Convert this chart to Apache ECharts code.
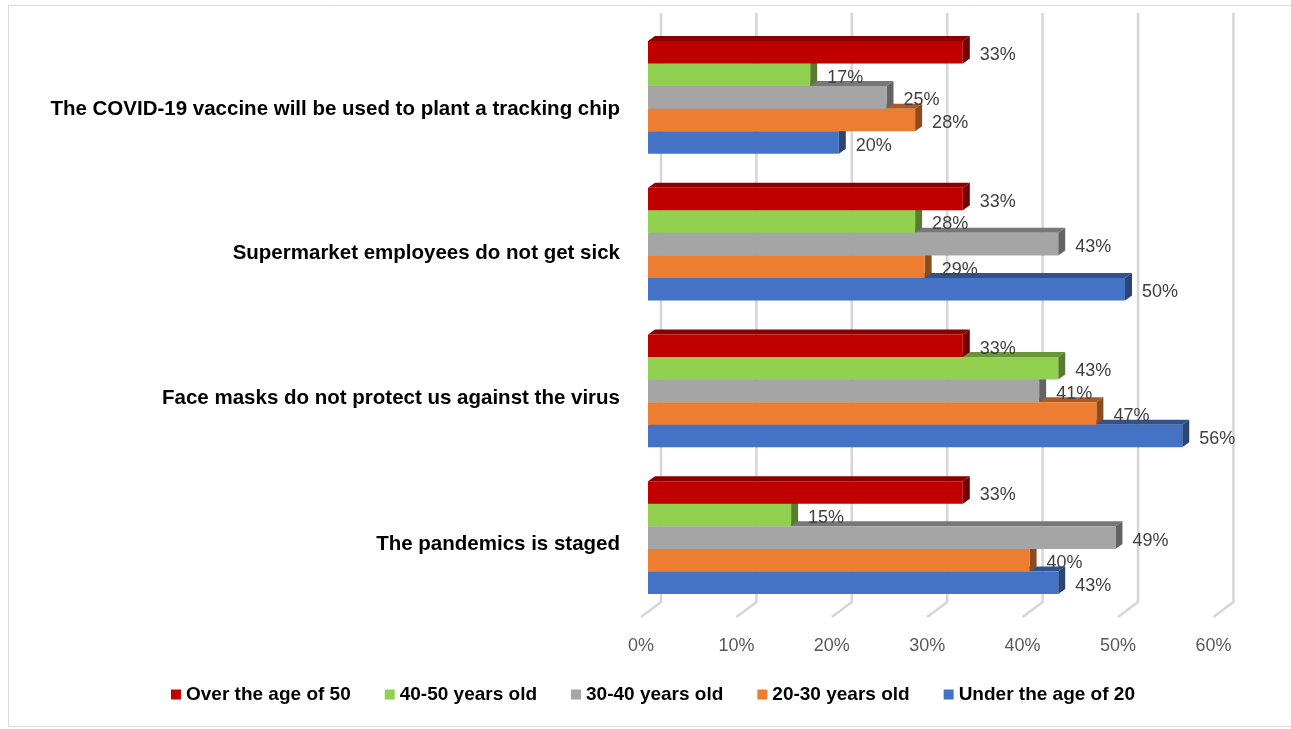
<!DOCTYPE html>
<html>
<head>
<meta charset="utf-8">
<script src="https://cdn.jsdelivr.net/npm/echarts@6/dist/echarts.min.js"></script>
<style>
  html, body { margin: 0; padding: 0; background: #ffffff; }
  #chart { width: 1291px; height: 729px; }
</style>
</head>
<body>
<div id="chart"></div>
<script>
// Statements, listed top to bottom
const categories = [
  'The COVID-19 vaccine will be used to plant a tracking chip',
  'Supermarket employees do not get sick',
  'Face masks do not protect us against the virus',
  'The pandemics is staged'
];

// Share of respondents agreeing (%), per age group
const over50    = [33, 33, 33, 33];
const age40to50 = [17, 28, 43, 15];
const age30to40 = [25, 43, 41, 49];
const age20to30 = [28, 29, 47, 40];
const under20   = [20, 50, 56, 43];

const xTicks = [0, 10, 20, 30, 40, 50, 60];

const groupNames  = ['Over the age of 50', '40-50 years old', '30-40 years old', '20-30 years old', 'Under the age of 20'];
const groupValues = [over50, age40to50, age30to40, age20to30, under20];
const groupColors = ['#C00000', '#92D050', '#A5A5A5', '#ED7D31', '#4472C4'];

// 3D extrusion of the bars (px)
const DEPTH_X = 7;
const DEPTH_Y = 5;
const CATEGORY_GAP = 0.23;

// Category labels sit a little below their band centre (perspective)
const labelDrop = [24, 18, 14, 14];

function shade(hex, f) {
  const n = parseInt(hex.slice(1), 16);
  const r = Math.round(((n >> 16) & 255) * f);
  const g = Math.round(((n >> 8) & 255) * f);
  const b = Math.round((n & 255) * f);
  return 'rgb(' + r + ',' + g + ',' + b + ')';
}

function barGeometry(slot, api) {
  const cat = api.value(0);
  const val = api.value(1);
  const start = api.coord([0, cat]);
  const end = api.coord([val, cat]);
  const band = api.size([0, 1])[1];
  const groupH = band * (1 - CATEGORY_GAP);
  const barH = groupH / groupNames.length;
  const y0 = start[1] - groupH / 2 + slot * barH;
  return { x0: start[0], x1: end[0], y0: y0, y1: y0 + barH, val: val };
}

function barRenderer(slot, color) {
  const topColor = shade(color, 0.72);
  const sideColor = shade(color, 0.6);
  return function (params, api) {
    const g = barGeometry(slot, api);
    return {
      type: 'group',
      children: [
        {
          type: 'polygon',
          shape: { points: [[g.x0, g.y0], [g.x0 + DEPTH_X, g.y0 - DEPTH_Y], [g.x1 + DEPTH_X, g.y0 - DEPTH_Y], [g.x1, g.y0]] },
          style: { fill: topColor }
        },
        {
          type: 'polygon',
          shape: { points: [[g.x1, g.y0], [g.x1 + DEPTH_X, g.y0 - DEPTH_Y], [g.x1 + DEPTH_X, g.y1 - DEPTH_Y], [g.x1, g.y1]] },
          style: { fill: sideColor }
        },
        {
          type: 'rect',
          shape: { x: g.x0, y: g.y0, width: g.x1 - g.x0, height: g.y1 - g.y0 },
          style: { fill: color }
        }
      ]
    };
  };
}

function labelRenderer(slot) {
  return function (params, api) {
    const g = barGeometry(slot, api);
    return {
      type: 'text',
      style: {
        x: g.x1 + 17,
        y: (g.y0 + g.y1) / 2 + 3,
        text: g.val + '%',
        fill: '#404040',
        font: '18px "Liberation Sans", Arial, sans-serif',
        align: 'left',
        verticalAlign: 'middle'
      }
    };
  };
}

// Back-wall gridlines with the floor edge running to the front
function gridRenderer(params, api) {
  const p = api.coord([api.value(0), 0]);
  const cs = params.coordSys;
  const bottom = cs.y + cs.height;
  return {
    type: 'polyline',
    shape: { points: [[p[0] + 13, cs.y - 11], [p[0] + 13, bottom - 9], [p[0] - 7, bottom + 6]] },
    style: { stroke: '#d6d6d6', lineWidth: 2.5, fill: null }
  };
}

const series = [{
  type: 'custom',
  name: 'gridlines',
  renderItem: gridRenderer,
  data: xTicks.map(function (v) { return [v, 0]; }),
  encode: { x: 0, y: 1 },
  clip: false,
  silent: true,
  z: 1
}];

// Lowest bar first so each bar above covers the top face of the one beneath
for (let s = groupNames.length - 1; s >= 0; s--) {
  const data = groupValues[s].map(function (v, i) { return [i, v]; });
  series.push({
    type: 'custom',
    name: groupNames[s],
    renderItem: barRenderer(s, groupColors[s]),
    data: data,
    encode: { x: 1, y: 0 },
    itemStyle: { color: groupColors[s] },
    clip: false,
    z: 2
  });
}
for (let s = groupNames.length - 1; s >= 0; s--) {
  const data = groupValues[s].map(function (v, i) { return [i, v]; });
  series.push({
    type: 'custom',
    name: groupNames[s],
    renderItem: labelRenderer(s),
    data: data,
    encode: { x: 1, y: 0 },
    itemStyle: { color: groupColors[s] },
    clip: false,
    z: 3
  });
}

const labelRich = {};
labelDrop.forEach(function (d, i) {
  labelRich['c' + i] = {
    color: '#000000',
    fontFamily: '"Liberation Sans", Arial, sans-serif',
    fontWeight: 'bold',
    fontSize: 20.5,
    padding: [d, 0, 0, 0]
  };
});

const chart = echarts.init(document.getElementById('chart'), null, { renderer: 'canvas' });
chart.setOption({
  animation: false,
  backgroundColor: '#ffffff',
  graphic: [{
    type: 'rect',
    shape: { x: 8.5, y: 5.5, width: 1300, height: 721 },
    style: { fill: null, stroke: '#d9d9d9', lineWidth: 1 },
    silent: true,
    z: 0
  }],
  grid: {
    left: 648,
    top: 24,
    width: 572.4,
    height: 587,
    containLabel: false,
    outerBoundsMode: 'none'
  },
  xAxis: {
    type: 'value',
    min: 0,
    max: 60,
    interval: 10,
    axisLine: { show: false },
    axisTick: { show: false },
    splitLine: { show: false },
    axisLabel: {
      formatter: '{value}%',
      color: '#595959',
      fontFamily: '"Liberation Sans", Arial, sans-serif',
      fontSize: 18,
      margin: 26,
      padding: [0, 14, 0, 0]
    }
  },
  yAxis: {
    type: 'category',
    data: categories,
    inverse: true,
    axisLine: { show: false },
    axisTick: { show: false },
    splitLine: { show: false },
    axisLabel: {
      margin: 28,
      formatter: function (value, index) {
        return '{c' + index + '|' + value + '}';
      },
      rich: labelRich
    }
  },
  legend: {
    data: groupNames,
    left: 166,
    top: 680,
    icon: 'rect',
    itemWidth: 10,
    itemHeight: 10,
    itemGap: 34,
    textStyle: {
      color: '#000000',
      fontFamily: '"Liberation Sans", Arial, sans-serif',
      fontWeight: 'bold',
      fontSize: 19
    }
  },
  series: series
});
</script>
</body>
</html>
